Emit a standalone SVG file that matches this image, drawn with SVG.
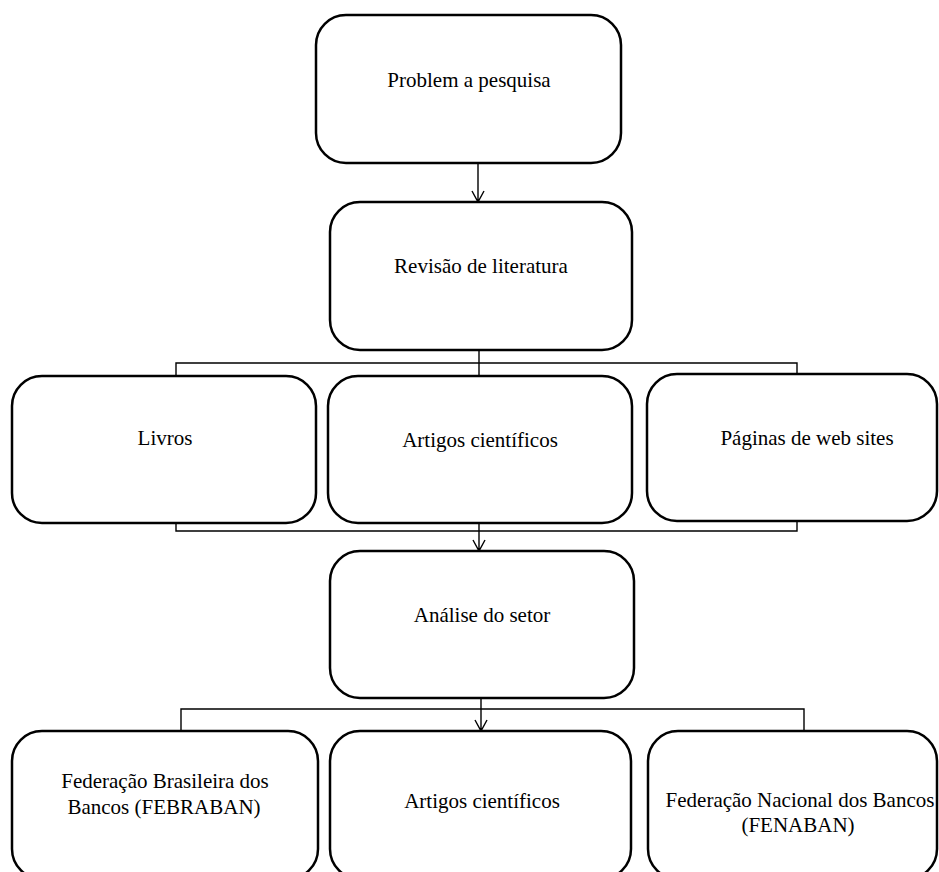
<svg xmlns="http://www.w3.org/2000/svg" width="939" height="872" viewBox="0 0 939 872">
<style>
.box{fill:#fff;stroke:#000;stroke-width:2.5}
.t{font-family:"Liberation Serif","Times New Roman",serif;font-size:21px;fill:#000;text-anchor:middle}
.c{fill:none;stroke:#000;stroke-width:1.4}
</style>
<rect width="939" height="872" fill="#fff"/>
<g id="connectors">
<path class="c" d="M478,163 V202 M472,191 L478,202 L484,191"/>
<path class="c" d="M479,350 V376 M176,376 V363 H797 V375"/>
<path class="c" d="M176,523 V531 H797 V521 M479,523 V551 M473,540 L479,551 L485,540"/>
<path class="c" d="M481,698 V731 M475,720 L481,731 L487,720 M181,731 V709 H804 V731"/>
</g>
<g id="n1"><rect class="box" x="316" y="15" width="305" height="148" rx="30"/><text class="t" x="469" y="87">Problem a pesquisa</text></g>
<g id="n2"><rect class="box" x="330" y="202" width="302" height="148" rx="30"/><text class="t" x="481" y="273">Revisão de literatura</text></g>
<g id="n3"><rect class="box" x="12" y="376" width="304" height="147" rx="30"/><text class="t" x="165" y="445">Livros</text></g>
<g id="n4"><rect class="box" x="328" y="376" width="304" height="147" rx="30"/><text class="t" x="480" y="447">Artigos científicos</text></g>
<g id="n5"><rect class="box" x="647" y="374" width="290" height="147" rx="30"/><text class="t" x="807" y="445">Páginas de web sites</text></g>
<g id="n6"><rect class="box" x="330" y="551" width="304" height="147" rx="30"/><text class="t" x="482" y="622">Análise do setor</text></g>
<g id="n7"><rect class="box" x="12" y="731" width="306" height="148" rx="30"/><text class="t" x="165" y="788">Federação Brasileira dos</text><text class="t" x="164" y="814">Bancos (FEBRABAN)</text></g>
<g id="n8"><rect class="box" x="330" y="731" width="301" height="148" rx="30"/><text class="t" x="482" y="808">Artigos científicos</text></g>
<g id="n9"><rect class="box" x="648" y="731" width="289" height="148" rx="30"/><text class="t" x="800" y="807">Federação Nacional dos Bancos</text><text class="t" x="798" y="832">(FENABAN)</text></g>
</svg>
